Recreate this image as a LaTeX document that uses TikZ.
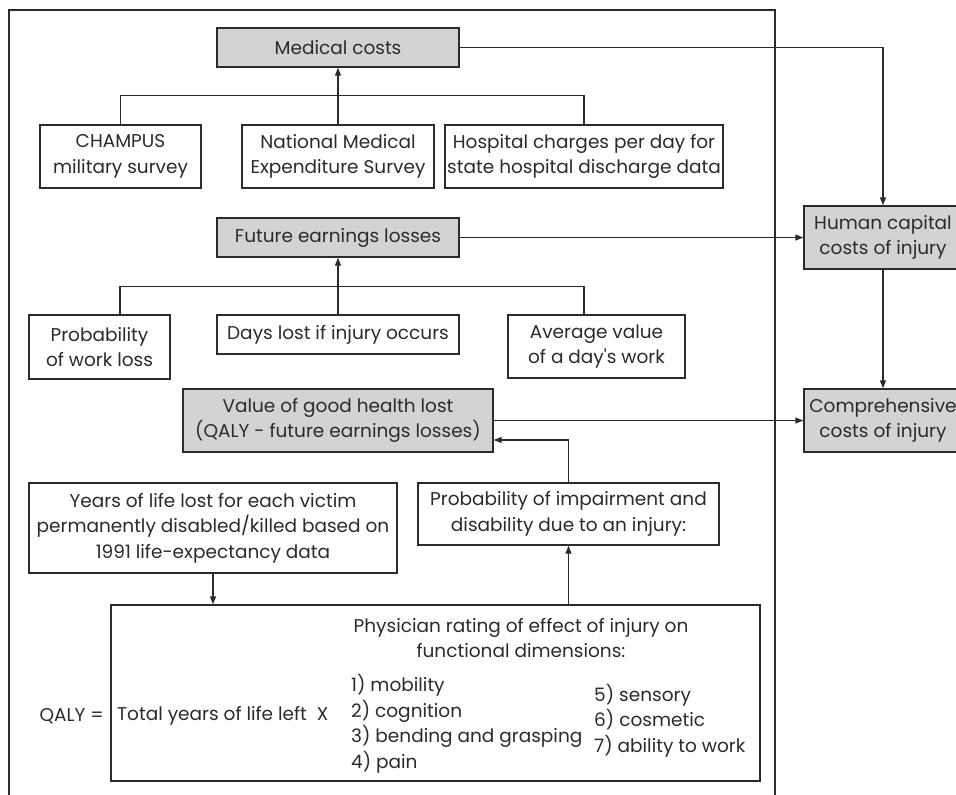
\documentclass[tikz,border=0pt]{standalone}
\usepackage{fontspec}
\setmainfont{Poppins}
\usetikzlibrary{arrows.meta}
\definecolor{ink}{HTML}{2B2B2B}
\definecolor{boxgray}{HTML}{D3D3D3}
\newcommand{\fs}{\fontsize{18.5}{25.5}\selectfont}
\begin{document}
\begin{tikzpicture}[x=1pt,y=-1pt,
  base/.style={draw=ink, line width=1.4pt, inner sep=0pt, align=center, text=ink, font=\fs},
  plainbox/.style={base, fill=white},
  shadedbox/.style={base, fill=boxgray},
  txt/.style={inner sep=0pt, text=ink, font=\fs},
  arr/.style={draw=ink, line width=1.4pt, -{Triangle[length=8pt,width=6pt]}},
  ln/.style={draw=ink, line width=1.4pt}]
\useasboundingbox (0,0) rectangle (956,795);
\clip (0,0) rectangle (956,795);
% outer frame
\draw[ln, line width=1.5pt] (9,800) -- (9,10) -- (775,10) -- (775,800);
% medical costs
\node[shadedbox, minimum width=242pt, minimum height=39pt] (med) at (338,47.5) {Medical costs};
\node[plainbox, minimum width=161pt, minimum height=63pt] (champ) at (120.5,156.5) {CHAMPUS\\military survey};
\node[plainbox, minimum width=192pt, minimum height=63pt] (nmes) at (338,156.5) {National Medical\\Expenditure Survey};
\node[plainbox, minimum width=278pt, minimum height=63pt] (hosp) at (584,156.5) {Hospital charges per day for\\state hospital discharge data};
% future earnings
\node[shadedbox, minimum width=242pt, minimum height=39pt] (fut) at (338,237.5) {Future earnings losses};
\node[plainbox, minimum width=141pt, minimum height=64pt] (pwl) at (99.5,347) {Probability\\of work loss};
\node[plainbox, minimum width=242pt, minimum height=39pt] (days) at (338,334.5) {Days lost if injury occurs};
\node[plainbox, minimum width=177pt, minimum height=63pt] (avg) at (596.5,346.5) {Average value\\of a day\textquotesingle s work};
% right column
\node[shadedbox, minimum width=158pt, minimum height=63pt] (human) at (883,237.5) {Human capital\\costs of injury};
\node[shadedbox, minimum width=158pt, minimum height=63pt] (comp) at (883,420.5) {Comprehensive\\costs of injury};
% value of good health
\node[shadedbox, minimum width=310pt, minimum height=63pt] (val) at (338,420.5) {Value of good health lost\\(QALY - future earnings losses)};
\node[plainbox, minimum width=301pt, minimum height=62pt] (pimp) at (568.5,514) {Probability of impairment and\\disability due to an injury:};
\node[plainbox, minimum width=368pt, minimum height=90pt] (yrs) at (213,528) {Years of life lost for each victim\\permanently disabled/killed based on\\1991 life-expectancy data};
\node[plainbox, minimum width=649pt, minimum height=176pt] (qaly) at (435.5,693) {};
% QALY contents
\node[txt, anchor=east] (qlab) at (104,716) {QALY =};
\node[txt, anchor=west] (tot) at (117,716) {Total years of life left\ \ X};
\node[txt, align=center] (phys) at (521,638) {Physician rating of effect of injury on\\functional dimensions:};
\node[txt, align=left, anchor=west] (lista) at (351,724) {1) mobility\\2) cognition\\3) bending and grasping\\4) pain};
\node[txt, align=left, anchor=west] (listb) at (594,720.5) {5) sensory\\6) cosmetic\\7) ability to work};
% connectors
\draw[arr] (med.east) -| (human.north);
\draw[arr] (nmes.north) -- (med.south);
\draw[ln] (champ.north) -- ++(0,-29) -| (hosp.north);
\draw[arr] (fut.east) -- (human.west);
\draw[arr] (days.north) -- (fut.south);
\draw[ln] ([xshift=20.5pt]pwl.north) -- ++(0,-28) -| ([xshift=-12.5pt]avg.north);
\draw[arr] (human.south) -- (comp.north);
\draw[arr] (val.east) -- (comp.west);
\draw[arr] (pimp.north) |- ([yshift=-19.5pt]val.east);
\draw[arr] (yrs.south) -- (yrs.south |- qaly.north);
\draw[arr] (pimp.south |- qaly.north) -- (pimp.south);
\end{tikzpicture}
\end{document}
